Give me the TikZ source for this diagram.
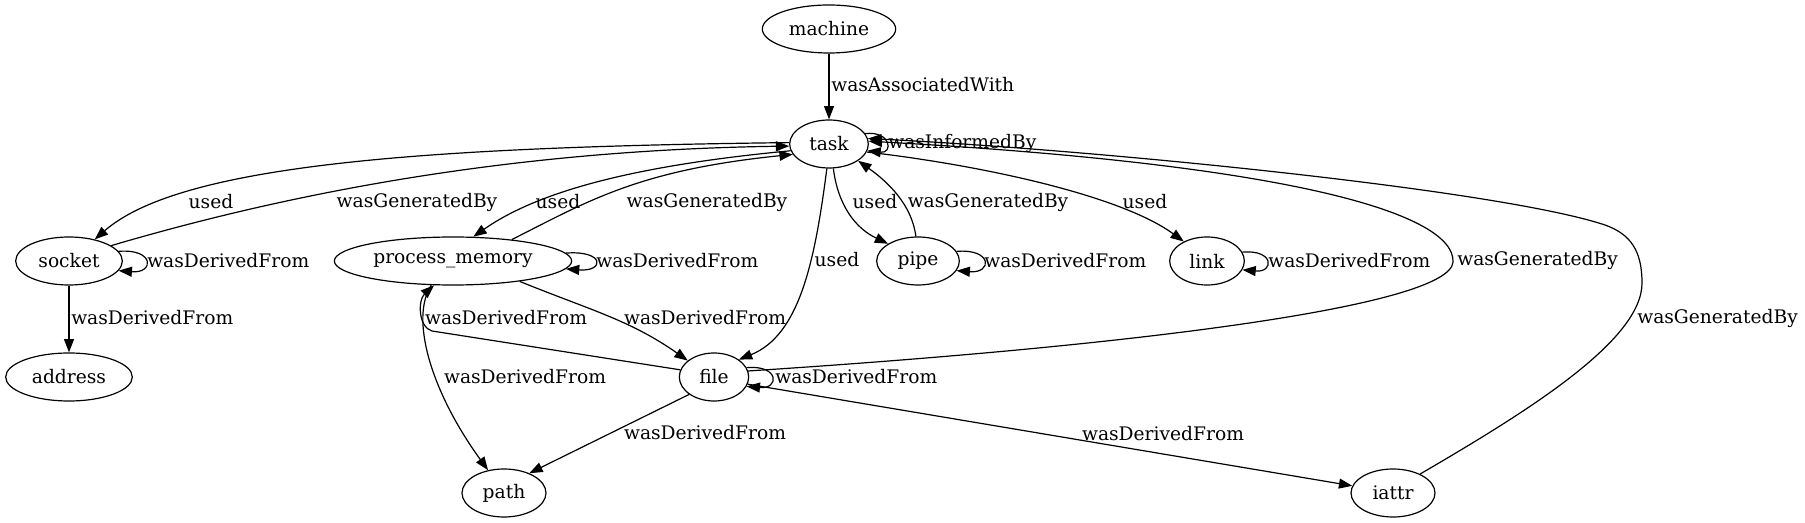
\documentclass[tikz,border=0pt]{standalone}
\usepackage{fontspec}
\setmainfont{DejaVu Serif}
\usetikzlibrary{arrows.meta,shapes.geometric}
\begin{document}
\begin{tikzpicture}[x=0.75pt,y=-0.75pt,
  nd/.style={draw, ellipse, inner sep=0pt, minimum height=36pt, line width=0.9pt, font=\fontsize{14}{16}\selectfont},
  e/.style={draw, line width=0.9pt, -{Triangle[length=10pt,width=7.5pt]}},
  lbl/.style={font=\fontsize{14}{16}\selectfont, inner sep=0pt}]
\fill[white] (0,0) rectangle (1805,523);
\useasboundingbox (0,0) rectangle (1805,523);
% nodes
\node[nd, minimum width=100pt] (machine) at (829,29) {machine};
\node[nd, minimum width=59pt] (task) at (829,144) {task};
\node[nd, minimum width=80pt] (socket) at (69,261) {socket};
\node[nd, minimum width=178pt] (pm) at (453,261) {process\_memory};
\node[nd, minimum width=62pt] (pipe) at (918,261) {pipe};
\node[nd, minimum width=56pt] (link) at (1207,261) {link};
\node[nd, minimum width=95pt] (address) at (69,377) {address};
\node[nd, minimum width=52pt] (file) at (714,377) {file};
\node[nd, minimum width=63pt] (path) at (504,493) {path};
\node[nd, minimum width=63pt] (iattr) at (1393,493) {iattr};
% edges
\draw[e] (machine) -- (task);
\node[lbl, anchor=west] (l1) at (831,85) {wasAssociatedWith};
\draw[e] (task.16) .. controls +(26,-3) and +(26,3) .. (task.-10);
\node[lbl, anchor=west] (l2) at (888,143) {wasInformedBy};
\draw[e] (task.178) .. controls (420,147) and (180,165) .. (socket.40);
\node[lbl] (l3) at (211,202) {used};
\draw[e] (socket.20) .. controls (300,190) and (520,150) .. (task.183);
\node[lbl] (l4) at (417,202) {wasGeneratedBy};
\draw[e] (task.190) .. controls (640,165) and (540,190) .. (pm.50);
\node[lbl] (l5) at (558,202) {used};
\draw[e] (pm.20) .. controls (590,200) and (640,170) .. (task.196);
\node[lbl] (l6) at (707,202) {wasGeneratedBy};
\draw[e] (task.-80) .. controls (838,205) and (855,228) .. (pipe.150);
\node[lbl] (l7) at (875,202) {used};
\draw[e] (pipe.95) .. controls (912,205) and (888,182) .. (task.-30);
\node[lbl] (l8) at (988,202) {wasGeneratedBy};
\draw[e] (task.-12) .. controls (980,165) and (1120,195) .. (link.140);
\node[lbl] (l9) at (1145,202) {used};
\draw[e] (task.-95) .. controls (815,260) and (800,335) .. (file.35);
\node[lbl] (l10) at (837,260) {used};
\draw[e] (file.10) .. controls (1150,345) and (1450,305) .. (1453,262) .. controls (1455,215) and (1300,165) .. (task.4);
\node[lbl, anchor=west] (l11) at (1457,260) {wasGeneratedBy};
\draw[e] (iattr.35) .. controls (1530,410) and (1642,340) .. (1642,283) .. controls (1642,250) and (1630,234) .. (1605,225) .. controls (1500,190) and (1100,150) .. (task.8);
\node[lbl, anchor=west] (l12) at (1637,318) {wasGeneratedBy};
\draw[e] (socket.11) .. controls +(36,-3) and +(36,3) .. (socket.-11);
\node[lbl, anchor=west] (l13) at (147,261) {wasDerivedFrom};
\draw[e] (socket) -- (address);
\node[lbl, anchor=west] (l14) at (71,318) {wasDerivedFrom};
\draw[e] (pm.4) .. controls +(39,-3) and +(39,3) .. (pm.-4);
\node[lbl, anchor=west] (l15) at (596,261) {wasDerivedFrom};
\draw[e] (pm.-17) .. controls (590,310) and (630,320) .. (file.148);
\node[lbl] (l16) at (705,318) {wasDerivedFrom};
\draw[e] (file.168) -- (432,331) .. controls (418,327) and (418,300) .. (pm.-128);
\node[lbl] (l17) at (506,318) {wasDerivedFrom};
\draw[e] (pm.-132) .. controls (410,318) and (430,390) .. (path.125);
\node[lbl] (l18) at (525,377) {wasDerivedFrom};
\draw[e] (file.-145) -- (path.38);
\node[lbl] (l19) at (705,433) {wasDerivedFrom};
\draw[e] (file.16) .. controls +(33,-3) and +(33,3) .. (file.-16);
\node[lbl, anchor=west] (l20) at (775,377) {wasDerivedFrom};
\draw[e] (file.-12) -- (iattr.170);
\node[lbl] (l21) at (1163,434) {wasDerivedFrom};
\draw[e] (pipe.14) .. controls +(36,-3) and +(36,3) .. (pipe.-14);
\node[lbl, anchor=west] (l22) at (984,261) {wasDerivedFrom};
\draw[e] (link.14) .. controls +(32,-3) and +(32,3) .. (link.-14);
\node[lbl, anchor=west] (l23) at (1268,261) {wasDerivedFrom};
\end{tikzpicture}
\end{document}
